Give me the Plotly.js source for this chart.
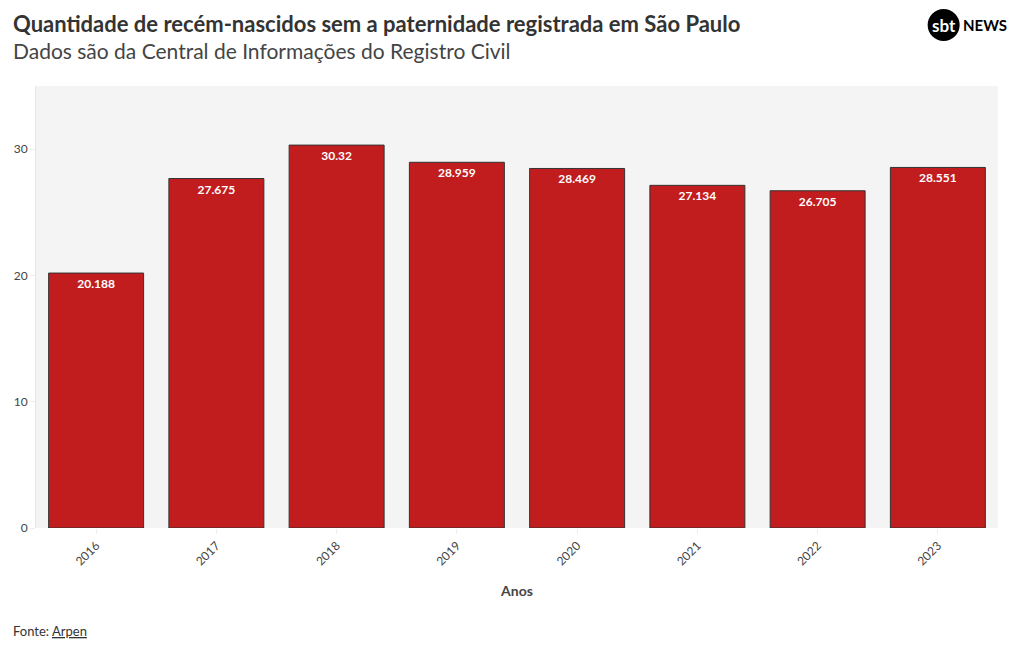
<!DOCTYPE html>
<html><head><meta charset="utf-8">
<script src="https://cdn.plot.ly/plotly-3.0.1.min.js"></script>
<style>body{margin:0;background:#fff}#c{width:1020px;height:650px}</style>
</head><body><div id="c"></div>
<script>
const anos = ['2016','2017','2018','2019','2020','2021','2022','2023'];
const valores = [20.188, 27.675, 30.32, 28.959, 28.469, 27.134, 26.705, 28.551];
const rotulos = ['20.188','27.675','30.32','28.959','28.469','27.134','26.705','28.551'];
const yTicks = [0, 10, 20, 30];

const F = 'Lato, "Source Sans Pro", "Noto Sans", sans-serif';

const trace = {
  type: 'bar', x: anos, y: valores, text: rotulos,
  textposition: 'inside', insidetextanchor: 'end',
  textfont: {family: F, size: 12, color: '#ffffff', weight: 'bold'},
  marker: {color: '#c11d1e', line: {color: '#333333', width: 1}},
  hoverinfo: 'x+y', cliponaxis: false
};

const layout = {
  width: 1020, height: 650,
  margin: {l: 36, r: 22, t: 86, b: 122},
  paper_bgcolor: '#ffffff', plot_bgcolor: '#f4f4f4',
  font: {family: F, color: '#444444'},
  bargap: 0.21,
  showlegend: false,
  xaxis: {
    type: 'category', tickangle: -45, tickfont: {size: 12, color: '#444'},
    ticks: 'outside', ticklen: 5, tickcolor: '#eeeeee',
    showline: false, showgrid: false,
    title: {text: '<b>Anos</b>', font: {size: 14, color: '#444'}, standoff: 18}
  },
  yaxis: {
    range: [0, 35], tickvals: yTicks, ticktext: yTicks.map(String),
    tickfont: {size: 12, color: '#444'},
    ticks: 'outside', ticklen: 5, tickcolor: '#eeeeee',
    showgrid: false, zeroline: false, showline: true, linecolor: '#e6e6e6', linewidth: 1
  },
  shapes: [
    {type: 'circle', xref: 'paper', yref: 'paper', xsizemode: 'pixel', ysizemode: 'pixel',
     xanchor: 0.9435, yanchor: 1.138, x0: -16, x1: 16, y0: -16, y1: 16,
     fillcolor: '#000', line: {width: 0}}
  ],
  annotations: [
    {xref: 'paper', yref: 'paper', x: -0.0265, y: 1.142, xanchor: 'left', yanchor: 'middle', showarrow: false,
     text: '<b>Quantidade de recém-nascidos sem a paternidade registrada em São Paulo</b>',
     font: {family: F, size: 22, color: '#333333'}},
    {xref: 'paper', yref: 'paper', x: -0.0265, y: 1.081, xanchor: 'left', yanchor: 'middle', showarrow: false,
     text: 'Dados são da Central de Informações do Registro Civil',
     font: {family: F, size: 21, color: '#444444'}},
    {xref: 'paper', yref: 'paper', x: -0.0265, y: -0.233, xanchor: 'left', yanchor: 'middle', showarrow: false,
     text: 'Fonte: <u>Arpen</u>', font: {family: F, size: 13, color: '#333333'}},
    {xref: 'paper', yref: 'paper', x: 0.9435, y: 1.138, xanchor: 'center', yanchor: 'middle', showarrow: false,
     text: '<b>sbt</b>', font: {family: F, size: 17, color: '#ffffff'}},
    {xref: 'paper', yref: 'paper', x: 0.9615, y: 1.138, xanchor: 'left', yanchor: 'middle', showarrow: false,
     text: '<b>NEWS</b>', font: {family: F, size: 15, color: '#000000'}}
  ]
};

Plotly.newPlot('c', [trace], layout, {displayModeBar: false});
</script></body></html>
